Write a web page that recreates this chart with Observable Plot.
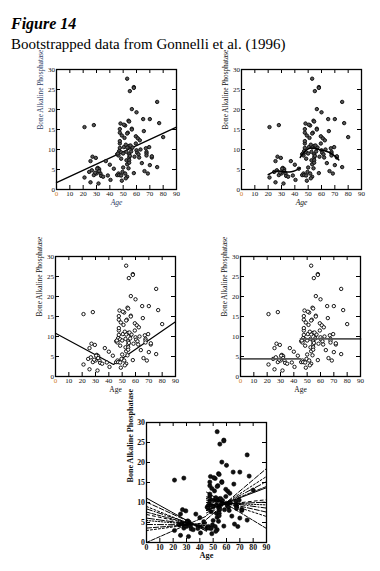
<!DOCTYPE html>
<html>
<head>
<meta charset="utf-8">
<script src="https://cdn.jsdelivr.net/npm/d3@7"></script>
<script src="https://cdn.jsdelivr.net/npm/@observablehq/plot@0.6"></script>
<style>
  html, body { margin: 0; padding: 0; background: #fff; }
  body { width: 380px; height: 571px; position: relative; overflow: hidden; font-family: "Liberation Serif", "Times New Roman", serif; }
  .title { position: absolute; left: 11px; top: 15.6px; font-size: 16px; line-height: 1; font-weight: bold; font-style: italic; color: #000; white-space: nowrap; }
  .subtitle { position: absolute; left: 11px; top: 36.7px; font-size: 15px; line-height: 1; color: #000; white-space: nowrap; }
  .panel { position: absolute; }
  .panel svg { display: block; overflow: visible; }
</style>
</head>
<body>
<div class="title">Figure 14</div>
<div class="subtitle">Bootstrapped data from Gonnelli et al. (1996)</div>
<div class="panel" id="p1" style="left:26px;top:63px"></div>
<div class="panel" id="p2" style="left:211px;top:63px"></div>
<div class="panel" id="p3" style="left:25px;top:250px"></div>
<div class="panel" id="p4" style="left:210px;top:250px"></div>
<div class="panel" id="p5" style="left:116px;top:416px"></div>
<script>
// ---- Data ----
const ages = [21,28,21,25.5,25.5,27,29.5,24.5,26.5,28,30,31,32,30.5,31.5,33,33.5,35,37,38.5,40,40.5,43,45.5,46.5,47,45.5,46.5,47,47.5,47.5,47.5,47.5,48,47.5,48.5,48.5,49,49.5,48.5,50,50.5,51,51.5,50.5,53,54,54.5,53.5,53,55,56.5,58,58,56.5,56.5,56.5,54.5,53,52.5,52.5,53,54,54.5,54.5,54.5,54.5,55,51.5,53,52,60,59.5,61,62.5,58.5,60,60.5,61.5,59.5,58,64,65,65.5,66,67,67.5,67.5,67.5,68.5,69.5,70,70,71.5,71.5,75.5,75.5,77,80,57,55.5,56,62,63,52,50,46,49,32,29];
const bap  = [15.6,16.1,3.0,1.8,7.1,8.2,7.9,4.4,4.8,3.6,4.0,5.4,5.1,5.2,1.5,4.0,3.4,3.2,7.1,3.5,6.2,2.4,5.2,3.6,4.0,3.6,8.8,8.5,9.6,11.5,12.1,14.2,15.1,16.5,10.4,9.3,7.7,2.2,4.4,3.5,9.0,10.6,12.9,16.0,16.2,27.7,17.2,17.0,14.2,14.0,24.6,20.1,25.6,25.4,15.2,15.0,10.4,10.9,10.5,9.4,7.3,6.3,5.3,8.8,8.0,7.3,6.7,8.4,4.0,3.2,2.8,19.3,13.3,12.8,12.3,8.2,9.8,9.2,8.8,11.5,4.1,6.6,17.6,14.6,4.6,10.3,9.4,9.0,8.5,4.0,10.6,17.6,6.1,8.0,8.3,21.9,5.6,16.6,13.1,10.5,11.0,9.5,8.0,10.0,11.2,5.5,9.0,13.5,4.6,4.2];

const xTicks = [0,10,20,30,40,50,60,70,80,90];
const yTicks = [0,5,10,15,20,25,30];
const xLabel = "Age";
const yLabel = "Bone Alkaline Phosphatase";

// Panel 1: linear regression
const regAge = [0, 90];
const regBap = [1.7, 15.6];
// Panel 2: smooth (two pieces)
const sm1Age = [20,24,27,30,33,36,39,42,44];
const sm1Bap = [3.7,4.4,4.7,4.6,4.4,4.3,4.5,5.0,5.4];
const sm2Age = [44,46,48,50,52,55,58,61,64,67,70,73];
const sm2Bap = [8.0,9.0,9.7,10.2,10.4,10.3,10.0,9.8,9.5,9.1,8.4,7.4];
// Panel 3: broken-stick
const bsAge = [0, 43.5, 90];
const bsBap = [10.8, 3.0, 13.7];
// Panel 4: two-level step
const stepLowAge = [0, 45], stepLow = 4.4;
const stepHighAge = [45, 90], stepHigh = 9.4;
// Panel 5: bootstrapped piecewise fits (value at age 0, 45 | 45, 90)
const bootLeft0  = [11.1,10.1,9.0,8.4,7.6,7.0,6.1,5.5,4.5,3.6,3.0,0.0];
const bootLeft45 = [2.8,3.2,3.0,3.4,3.6,3.8,4.0,4.2,4.4,4.8,5.0,6.6];
const bootRight45 = [8.0,5.8,6.8,7.4,8.0,9.0,9.4,10.0,10.6,11.0,11.4,12.6];
const bootRight90 = [13.7,18.5,16.5,15.2,14.0,10.7,10.1,9.4,8.6,7.6,6.5,3.5];
const dashes = ["none","5,2","2,2","6,2,1,2","4,1.5","3,3","8,2","1.5,1.5","6,2,1,2","5,2","2,2","4,1.5"];

const pts = ages.map((a, i) => ({age: a, bap: bap[i]}));

function frameMarks(opts) {
  const bold = opts.bold ? "bold" : "normal";
  const fs = opts.bold ? 7.8 : 7;
  return [
    Plot.frame({stroke: "#000", strokeWidth: 1.3}),
    Plot.tickX(xTicks, {x: d => d, insetTop: 116, stroke: "#000", strokeWidth: 1}),
    Plot.tickX(xTicks, {x: d => d, insetBottom: 116, stroke: "#000", strokeWidth: 1}),
    Plot.tickY(yTicks, {y: d => d, insetRight: 116, stroke: "#000", strokeWidth: 1}),
    Plot.tickY(yTicks, {y: d => d, insetLeft: 116, stroke: "#000", strokeWidth: 1}),
    Plot.axisX(xTicks.filter(d => d !== 0), {label: null, tickSize: 0, tickPadding: 2, fontSize: fs, fontWeight: bold, fill: "#111"}),
    Plot.axisX([0], {label: null, tickSize: 0, tickPadding: 2, fontSize: fs, fontWeight: bold, fill: opts.zeroColor || "#111"}),
    Plot.axisY(yTicks, {label: null, tickSize: 0, tickPadding: 1.5, fontSize: fs, fontWeight: bold, fill: "#111"}),
    Plot.text([xLabel], {text: d => d, frameAnchor: "bottom", dy: 15, fontSize: fs + 0.5, fontStyle: opts.italicAge ? "italic" : "normal", fontWeight: bold, fill: opts.labelColor || "#111"}),
    Plot.text([yLabel], {text: d => d, frameAnchor: "left", rotate: -90, dx: -16, fontSize: fs + 0.3, fontWeight: bold, fill: opts.labelColor || "#111"})
  ];
}

function panel(id, marks, opts) {
  const chart = Plot.plot({
    width: 156, height: 152,
    marginLeft: 30, marginRight: 6, marginTop: 6, marginBottom: 26,
    x: {domain: [0, 90], axis: null},
    y: {domain: [0, 30], axis: null},
    style: {fontFamily: "'Liberation Serif', 'Times New Roman', serif", fontSize: "7px", background: "transparent", color: "#111"},
    marks: [...marks, ...frameMarks(opts)]
  });
  document.getElementById(id).appendChild(chart);
}

// Panel 1
panel("p1", [
  Plot.line(regAge.map((a, i) => ({age: a, bap: regBap[i]})), {x: "age", y: "bap", stroke: "#000", strokeWidth: 1.3}),
  Plot.dot(pts, {x: "age", y: "bap", r: 1.7, fill: "#555", stroke: "#111", strokeWidth: 1})
], {italicAge: true, zeroColor: "#d0802a", labelColor: "#2e3d66"});

// Panel 2
panel("p2", [
  Plot.dot(pts, {x: "age", y: "bap", r: 1.7, fill: "#555", stroke: "#111", strokeWidth: 1}),
  Plot.line(sm1Age.map((a, i) => ({age: a, bap: sm1Bap[i]})), {x: "age", y: "bap", stroke: "#000", strokeWidth: 1.5, curve: "basis"}),
  Plot.line(sm2Age.map((a, i) => ({age: a, bap: sm2Bap[i]})), {x: "age", y: "bap", stroke: "#000", strokeWidth: 1.5, curve: "basis"})
], {italicAge: true, zeroColor: "#d0802a"});

// Panel 3
panel("p3", [
  Plot.line(bsAge.map((a, i) => ({age: a, bap: bsBap[i]})), {x: "age", y: "bap", stroke: "#000", strokeWidth: 1.2}),
  Plot.dot(pts, {x: "age", y: "bap", r: 1.7, fill: "#fff", stroke: "#000", strokeWidth: 0.9})
], {italicAge: false, zeroColor: "#d0802a"});

// Panel 4
panel("p4", [
  Plot.dot(pts, {x: "age", y: "bap", r: 1.7, fill: "#fff", stroke: "#000", strokeWidth: 0.9}),
  Plot.line(stepLowAge.map(a => ({age: a, bap: stepLow})), {x: "age", y: "bap", stroke: "#555", strokeWidth: 1.8}),
  Plot.line(stepHighAge.map(a => ({age: a, bap: stepHigh})), {x: "age", y: "bap", stroke: "#555", strokeWidth: 1.8})
], {italicAge: false, zeroColor: "#d0802a"});

// Panel 5
const bootSegs = [];
bootLeft0.forEach((v, i) => {
  bootSegs.push({id: "L" + i, k: i, age: 0, bap: v});
  bootSegs.push({id: "L" + i, k: i, age: 45, bap: bootLeft45[i]});
});
bootRight45.forEach((v, i) => {
  bootSegs.push({id: "R" + i, k: i, age: 45, bap: v});
  bootSegs.push({id: "R" + i, k: i, age: 90, bap: bootRight90[i]});
});
const lineMarks = [];
for (const id of [...new Set(bootSegs.map(d => d.id))]) {
  const seg = bootSegs.filter(d => d.id === id);
  const dash = dashes[seg[0].k];
  lineMarks.push(Plot.line(seg, {x: "age", y: "bap", stroke: "#000", strokeWidth: 1, strokeDasharray: dash === "none" ? null : dash}));
}
panel("p5", [
  Plot.dot(pts, {x: "age", y: "bap", r: 2.1, fill: "#111", stroke: "#000", strokeWidth: 0.6}),
  ...lineMarks
], {italicAge: false, bold: true});
</script>
</body>
</html>
